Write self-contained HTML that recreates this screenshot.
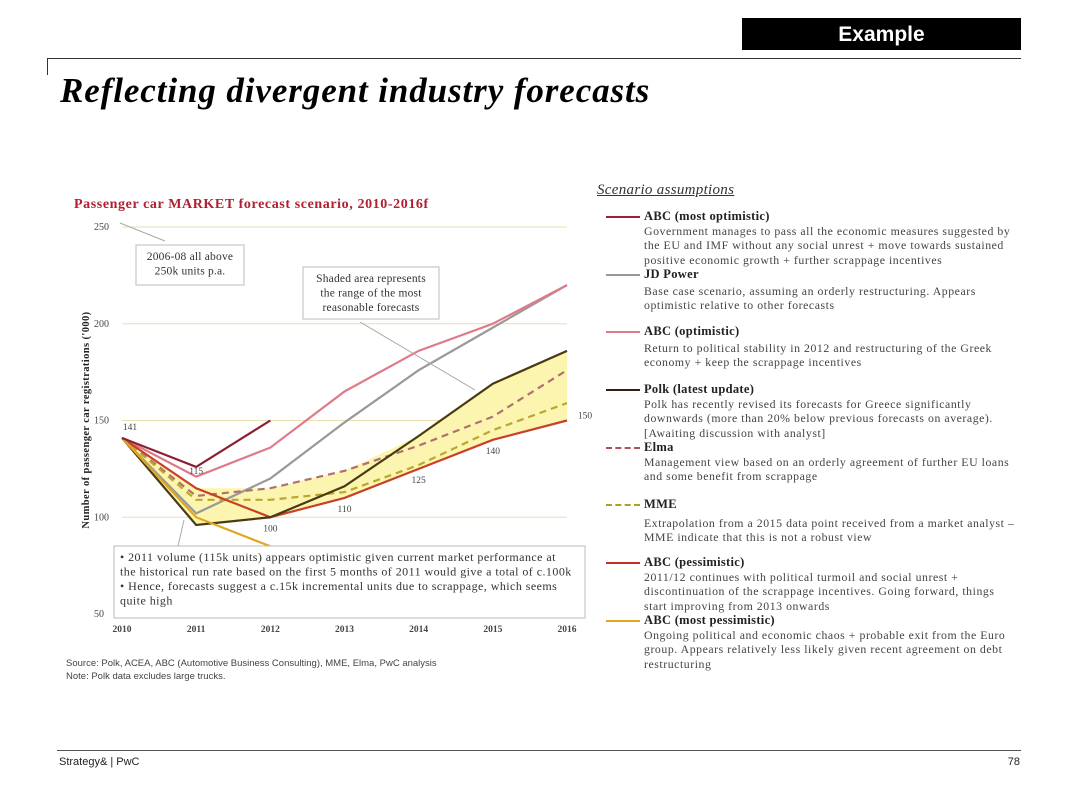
<!DOCTYPE html>
<html><head><meta charset="utf-8"><style>
body{margin:0;width:1080px;height:810px;background:#fff;position:relative;overflow:hidden;font-family:"Liberation Serif",serif;color:#333}
.abs{position:absolute}
.leg{position:absolute;left:644px;font-size:11.8px;letter-spacing:0.55px;line-height:14.5px;color:#444;white-space:nowrap}
.leg b{color:#222;font-size:12.5px;letter-spacing:0.3px}
.sw{position:absolute;left:606px;width:34px;height:0;border-top:2.5px solid}
</style></head><body>
<div class="abs" style="left:742px;top:18px;width:279px;height:32px;background:#000;color:#fff;font:bold 21px 'Liberation Sans',sans-serif;text-align:center;line-height:33px">Example</div>
<div class="abs" style="left:47px;top:58px;width:974px;border-top:1px solid #333"></div>
<div class="abs" style="left:47px;top:58px;height:17px;border-left:1px solid #333"></div>
<div class="abs" style="left:60px;top:71px;font:italic bold 35px 'Liberation Serif',serif;letter-spacing:0.9px;color:#000">Reflecting divergent industry forecasts</div>

<svg class="abs" style="left:0;top:0" width="600" height="700" id="chart"></svg>

<div class="abs" style="left:66px;top:657px;font:9.5px 'Liberation Sans',sans-serif;line-height:13px;color:#444">Source: Polk, ACEA, ABC (Automotive Business Consulting), MME, Elma, PwC analysis<br>Note: Polk data excludes large trucks.</div>

<div class="abs" style="left:597px;top:182px;font:italic 15px 'Liberation Serif',serif;letter-spacing:0.3px;text-decoration:underline;color:#333">Scenario assumptions</div>
<div class="sw" style="top:216px;border-color:#a02030"></div>
<div class="leg" style="top:209px"><b>ABC (most optimistic)</b><br>Government manages to pass all the economic measures suggested by<br>the EU and IMF without any social unrest + move towards sustained<br>positive economic growth + further scrappage incentives</div>
<div class="sw" style="top:274px;border-color:#999"></div>
<div class="leg" style="top:267px"><b>JD Power</b><br><span style="display:block;margin-top:2px">Base case scenario, assuming an orderly restructuring. Appears<br>optimistic relative to other forecasts</span></div>
<div class="sw" style="top:331px;border-color:#e07a88"></div>
<div class="leg" style="top:324px"><b>ABC (optimistic)</b><br><span style="display:block;margin-top:2px">Return to political stability in 2012 and restructuring of the Greek<br>economy + keep the scrappage  incentives</span></div>
<div class="sw" style="top:389px;border-color:#3a1a18"></div>
<div class="leg" style="top:382px"><b>Polk (latest update)</b><br>Polk has recently revised its forecasts for Greece significantly<br>downwards (more than 20% below previous forecasts on average).<br>[Awaiting discussion with analyst]</div>
<div class="sw" style="top:447px;border-top-style:dashed;border-color:#b05060"></div>
<div class="leg" style="top:440px"><b>Elma</b><br>Management view based on an orderly agreement of further EU loans<br>and some benefit from scrappage</div>
<div class="sw" style="top:504px;border-top-style:dashed;border-color:#b0a020"></div>
<div class="leg" style="top:497px"><b>MME</b><br><span style="display:block;margin-top:4px">Extrapolation from a 2015 data point received from a market analyst –<br>MME indicate that this is not a robust view</span></div>
<div class="sw" style="top:562px;border-color:#c0302a"></div>
<div class="leg" style="top:555px"><b>ABC (pessimistic)</b><br>2011/12 continues with political turmoil and social unrest +<br>discontinuation of the scrappage incentives. Going forward, things<br>start improving from 2013 onwards</div>
<div class="sw" style="top:620px;border-color:#e0a820"></div>
<div class="leg" style="top:613px"><b>ABC (most pessimistic)</b><br>Ongoing political and economic chaos + probable exit from the Euro<br>group. Appears relatively less  likely given recent agreement on debt<br>restructuring</div>

<div class="abs" style="left:57px;top:750px;width:964px;border-top:1px solid #555"></div>
<div class="abs" style="left:59px;top:756px;font:11px 'Liberation Sans',sans-serif;color:#222">Strategy&amp; | PwC</div>
<div class="abs" style="left:1000px;top:756px;font:11px 'Liberation Sans',sans-serif;color:#222;width:20px;text-align:right">78</div>

<script>
const years=[2010,2011,2012,2013,2014,2015,2016];
const yTicks=[50,100,150,200,250];
const abcMostOpt=[141,126,150];
const abcOpt=[141,121,136,165,186,200,220];
const jdPower=[141,102,120,149,176,198,220];
const polk=[141,96,100,116,142,169,186];
const elma=[141,111,115,124,137,152,176];
const mme=[141,109,109,113,127,145,159];
const abcPess=[141,115,100,110,125,140,150];
const abcMostPess=[141,100,85];
const valueLabels=[[2010,141,'141'],[2011,115,'115'],[2012,100,'100'],[2013,110,'110'],[2014,125,'125'],[2015,140,'140'],[2016,150,'150']];

const svg=document.getElementById('chart');const NS='http://www.w3.org/2000/svg';
const X=y=>122+(y-2010)*(567-122)/6;
const Y=v=>614-(v-50)*(614-227)/200;
function mk(t,a,p){const e=document.createElementNS(NS,t);for(const k in a)e.setAttribute(k,a[k]);(p||svg).appendChild(e);return e;}
function txt(x,y,s,a){const e=mk('text',Object.assign({x:x,y:y,'font-family':'Liberation Serif, serif','font-size':10,fill:'#444'},a||{}));e.textContent=s;return e;}

const t=txt(74,208,'Passenger car MARKET forecast scenario, 2010-2016f',{'font-size':14,'font-weight':'bold','letter-spacing':0.6,fill:'#b02030'});



yTicks.forEach(v=>{
  const g=mk('line',{x1:122,x2:567,y1:Y(v),y2:Y(v),stroke:v==50?'#bbb':'#e8e0b0','stroke-width':1});
  
  
  const l=txt(94,Y(v)+3,String(v));
  
  
});
years.forEach(yr=>{
  const l=txt(X(yr),632,String(yr),{'text-anchor':'middle','font-weight':'bold','font-size':9.5});
  
  
});
const yt=txt(0,0,"Number of passenger car registrations ('000)",{transform:'translate(89,420) rotate(-90)','text-anchor':'middle','font-weight':'bold','font-size':10.5,'letter-spacing':0.4,fill:'#222'});



let up=[],lo=[];
for(let i=0;i<years.length;i++){
  const vs=[polk[i],elma[i],mme[i],abcPess[i]];
  up.push([X(years[i]),Y(Math.max(...vs))]);lo.push([X(years[i]),Y(Math.min(...vs))]);
}
const pts=up.concat(lo.slice().reverse()).map(p=>p.join(',')).join(' ');
const band=mk('polygon',{points:pts,fill:'#fbf5b0',stroke:'none'});



function series(name,data,color,dash,w){
  const d=data.map((v,i)=>(i?'L':'M')+X(years[i])+','+Y(v)).join(' ');
  const p=mk('path',{d:d,fill:'none',stroke:color,'stroke-width':w||2.2,'stroke-dasharray':dash||'none'});
  
  
}
series('line-jd-power',jdPower,'#999');
series('line-abc-optimistic',abcOpt,'#e07a88');
series('line-elma',elma,'#b07070','7,5');
series('line-mme',mme,'#b8a830','7,5');
series('line-abc-pessimistic',abcPess,'#c84028');
series('line-polk',polk,'#4a3a12');
series('line-abc-most-pessimistic',abcMostPess,'#e0a820');
series('line-abc-most-optimistic',abcMostOpt,'#8a2030');

valueLabels.forEach(([yr,v,s],i)=>{
  const dx=i==0?8:(i==6?18:0), dy=i==0?-8:(i==6?-2:(i==1?-14:14));
  const l=txt(X(yr)+dx,Y(v)+dy,s,{'text-anchor':'middle','font-size':9.5});
  
  
});

function box(x,y,w,h,lines,name,fs,ls){
  const g=mk('g',{});
  
  
  mk('rect',{x:x,y:y,width:w,height:h,fill:'#fff',stroke:'#bbb'},g);
  lines.forEach((s,i)=>{const e=mk('text',{x:lines.align=='left'?x+6:x+w/2,y:y+15+i*14.5,'text-anchor':lines.align=='left'?'start':'middle','font-family':'Liberation Serif, serif','font-size':fs||11.5,'letter-spacing':ls||0.2,'xml:space':'preserve',fill:'#333'},g);e.textContent=s;});
}
mk('path',{d:'M120,223 L165,241',stroke:'#aaa',fill:'none'});
box(136,245,108,40,['2006-08 all above','250k units p.a.'],'callout-2006-08');
mk('path',{d:'M360,322 L475,390',stroke:'#aaa',fill:'none'});
box(303,267,136,52,['Shaded area represents','the range of the most','reasonable forecasts'],'callout-shaded-area');
mk('path',{d:'M178,546 L184,520',stroke:'#aaa',fill:'none'});
const bl=['• 2011 volume (115k units) appears optimistic given current market performance  at','   the historical run rate based on the first 5 months of 2011 would give a total of c.100k','• Hence, forecasts suggest a c.15k incremental units due to scrappage, which seems','   quite high'];bl.align='left';
box(114,546,471,72,bl,'callout-2011-volume',12,0.45);
</script>
</body></html>
